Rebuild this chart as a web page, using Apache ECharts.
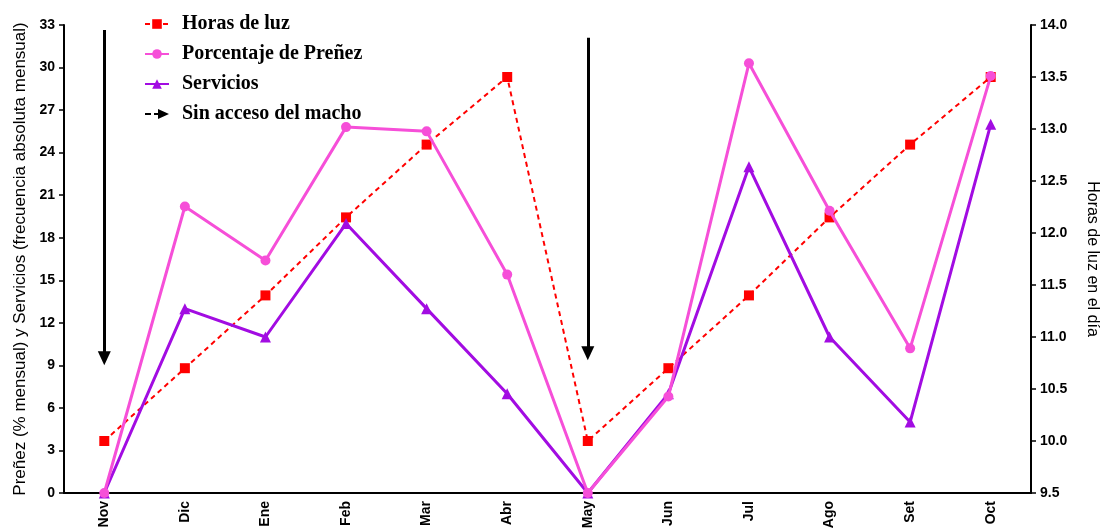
<!DOCTYPE html>
<html>
<head>
<meta charset="utf-8">
<script src="https://cdn.jsdelivr.net/npm/echarts@6/dist/echarts.min.js"></script>
<style>html,body{margin:0;padding:0;background:#fff;}#c{width:1104px;height:529px;}</style>
</head>
<body>
<div id="c"></div>
<script>
const months = ['Nov','Dic','Ene','Feb','Mar','Abr','May','Jun','Jul','Ago','Set','Oct'];
const horasLuz = [10.0, 10.7, 11.4, 12.15, 12.85, 13.5, 10.0, 10.7, 11.4, 12.15, 12.85, 13.5];
const prenez = [0, 20.2, 16.4, 25.8, 25.5, 15.4, 0, 6.8, 30.3, 19.9, 10.2, 29.4];
const servicios = [0, 13, 11, 19, 13, 7, 0, 7, 23, 11, 5, 26];
const arrowMonths = ['Nov', 'May'];
const arrowTop = [32.65, 32.1];
const arrowTip = [9.5, 9.85];
const leftTicks = {min: 0, max: 33, interval: 3};
const rightTicks = {min: 9.5, max: 14, interval: 0.5};

const RED = '#ff0000', PINK = '#f64fd8', PURPLE = '#a20ce2';
const tickFont = {fontFamily: 'Liberation Sans, Arial, sans-serif', fontWeight: 'bold', fontSize: 14, color: '#000'};

const chart = echarts.init(document.getElementById('c'), null, {renderer: 'canvas'});
chart.setOption({
  animation: false,
  backgroundColor: '#fff',
  grid: {left: 64, right: 73, top: 25, bottom: 36, containLabel: false, outerBoundsMode: 'none'},
  legend: {
    orient: 'vertical', left: 139, top: 9,
    itemWidth: 24, itemHeight: 12, itemGap: 10,
    textStyle: {fontFamily: 'Liberation Serif, Times New Roman, serif', fontWeight: 'bold', fontSize: 20, color: '#000', padding: [0,0,0,8]},
    data: [
      {name: 'Horas de luz'},
      {name: 'Porcentaje de Preñez'},
      {name: 'Servicios'},
      {name: 'Sin acceso del macho', icon: 'path://M0,4 L6,4 L6,6 L0,6 Z M9,4 L13,4 L13,0 L24,5 L13,10 L13,6 L9,6 Z', itemStyle: {color: '#000'}}
    ]
  },
  xAxis: {
    type: 'category', data: months, boundaryGap: true,
    axisLine: {lineStyle: {color: '#000', width: 2}},
    axisTick: {alignWithLabel: true, length: 5, lineStyle: {color: '#000', width: 1.5}},
    axisLabel: Object.assign({rotate: 90, margin: 8, interval: 0}, tickFont),
    splitLine: {show: false}
  },
  yAxis: [
    {
      type: 'value', min: leftTicks.min, max: leftTicks.max, interval: leftTicks.interval, position: 'left',
      name: 'Preñez (% mensual) y Servicios (frecuencia absoluta mensual)',
      nameLocation: 'middle', nameGap: 35,
      nameTextStyle: {fontFamily: 'Liberation Sans, Arial, sans-serif', fontSize: 17, color: '#000'},
      axisLine: {show: true, lineStyle: {color: '#000', width: 2}},
      axisTick: {show: true, length: 5, lineStyle: {color: '#000', width: 1.5}},
      axisLabel: Object.assign({margin: 9}, tickFont),
      splitLine: {show: false}
    },
    {
      type: 'value', min: rightTicks.min, max: rightTicks.max, interval: rightTicks.interval, position: 'right',
      name: 'Horas de luz en el día',
      nameLocation: 'middle', nameGap: 53, nameRotate: -90,
      nameTextStyle: {fontFamily: 'Liberation Sans, Arial, sans-serif', fontSize: 16, color: '#000'},
      axisLine: {show: true, lineStyle: {color: '#000', width: 2}},
      axisTick: {show: true, length: 5, lineStyle: {color: '#000', width: 1.5}},
      axisLabel: Object.assign({margin: 9, formatter: v => v.toFixed(1)}, tickFont),
      splitLine: {show: false}
    }
  ],
  series: [
    {
      name: 'Horas de luz', type: 'line', yAxisIndex: 1, data: horasLuz, z: 2,
      symbol: 'rect', symbolSize: 10,
      itemStyle: {color: RED},
      lineStyle: {color: RED, width: 2, type: [5, 4]}
    },
    {
      name: 'Servicios', type: 'line', yAxisIndex: 0, data: servicios, z: 3,
      symbol: 'triangle', symbolSize: 11,
      itemStyle: {color: PURPLE},
      lineStyle: {color: PURPLE, width: 3}
    },
    {
      name: 'Porcentaje de Preñez', type: 'line', yAxisIndex: 0, data: prenez, z: 4,
      symbol: 'circle', symbolSize: 10,
      itemStyle: {color: PINK},
      lineStyle: {color: PINK, width: 3}
    },
    {
      name: 'Sin acceso del macho', type: 'line', yAxisIndex: 0, data: [], z: 5,
      itemStyle: {color: '#000'},
      lineStyle: {color: '#000'},
      markLine: {
        silent: true, animation: false,
        symbol: ['none', 'triangle'], symbolSize: [13, 14],
        label: {show: false},
        lineStyle: {color: '#000', width: 3, type: 'solid'},
        data: arrowMonths.map((m, i) => [{coord: [m, arrowTop[i]]}, {coord: [m, arrowTip[i]]}])
      }
    }
  ]
});
</script>
</body>
</html>
